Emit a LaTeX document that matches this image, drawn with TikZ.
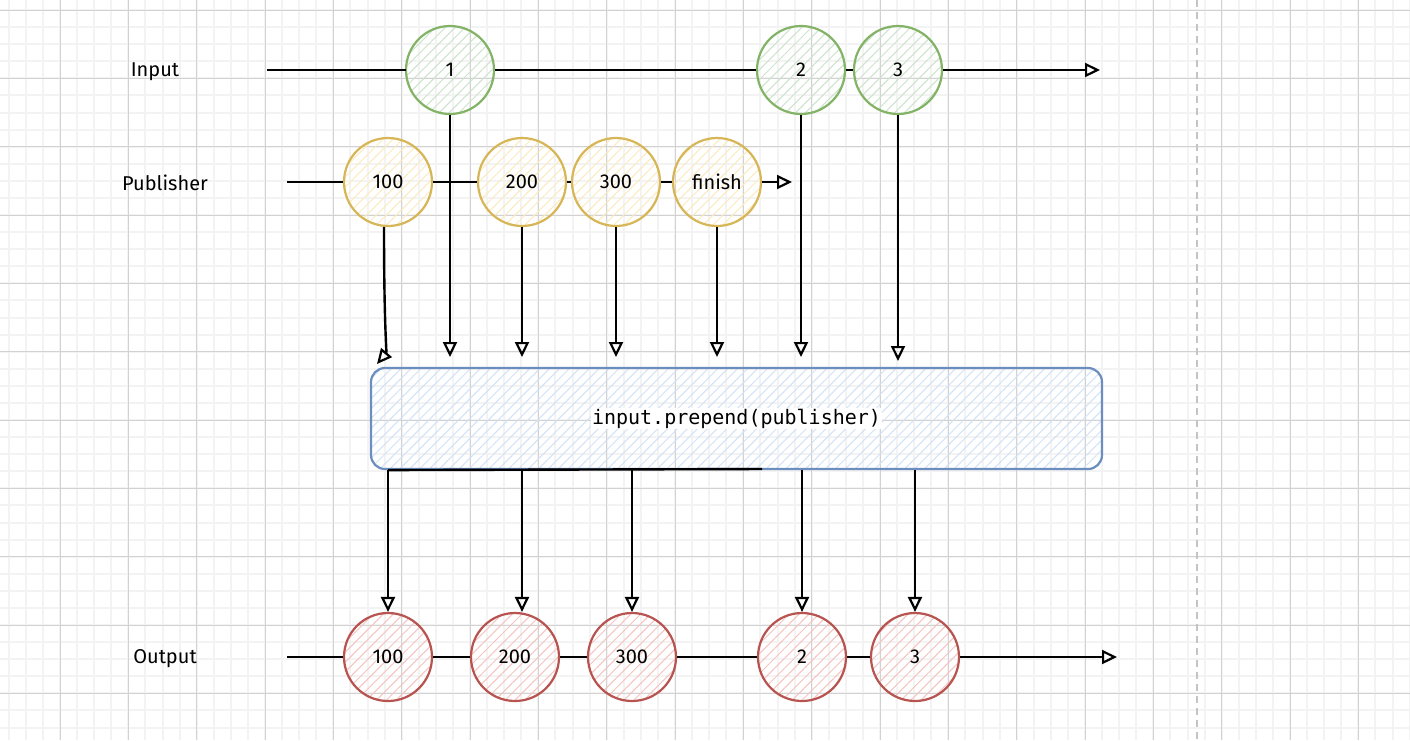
\documentclass[tikz,border=0pt]{standalone}
\usepackage{fontspec}
\setmainfont{Fira Sans}
\setmonofont{DejaVu Sans Mono}
\usetikzlibrary{arrows.meta,patterns.meta}

\definecolor{gridminor}{HTML}{F3F3F3}
\definecolor{gridmajor}{HTML}{D2D2D2}
\definecolor{dashgray}{HTML}{C4C4C4}
\definecolor{greenS}{HTML}{82B366}
\definecolor{greenH}{HTML}{CDE3CB}
\definecolor{yellowS}{HTML}{D6B656}
\definecolor{yellowH}{HTML}{FBEBC0}
\definecolor{redS}{HTML}{B85450}
\definecolor{redH}{HTML}{F4C4C1}
\definecolor{blueS}{HTML}{6C8EBF}
\definecolor{blueH}{HTML}{D2E2F8}

\tikzset{
  txt/.style={font=\fontsize{20}{24}\selectfont},
  bub/.style={circle, minimum size=88pt, inner sep=0pt, line width=2.2pt, txt},
  hatch/.style={pattern={Lines[angle=45,distance=7pt,line width=1pt]}, pattern color=#1},
  inbub/.style={bub, draw=greenS, hatch=greenH},
  pubbub/.style={bub, draw=yellowS, hatch=yellowH},
  outbub/.style={bub, draw=redS, hatch=redH},
  opbox/.style={draw=blueS, line width=2.2pt, rounded corners=14pt, hatch=blueH,
    minimum width=731pt, minimum height=101pt, inner sep=0pt},
  conn/.style={line width=2.4pt, black},
  arr/.style={conn, -{Triangle[open, length=15pt, width=14pt, line width=2.2pt]}},
  rowlabel/.style={txt, anchor=center},
}

\begin{document}
\begin{tikzpicture}[x=1pt, y=-1pt]
  \useasboundingbox (0,0) rectangle (1410,740);
  \fill[white] (0,0) rectangle (1410,740);

  % background grid: minor lines, then major lines
  \foreach \i in {0,...,84} {
    \draw[gridminor, line width=2pt] ({-8.333+17.0833*\i},0) -- ++(0,740);
  }
  \foreach \i in {0,...,45} {
    \draw[gridminor, line width=2pt] (0,{-7.083+17.0833*\i}) -- ++(1410,0);
  }
  \foreach \i in {0,...,21} {
    \draw[gridmajor, line width=1pt] ({-8.333+68.333*\i},0) -- ++(0,740);
  }
  \foreach \i in {0,...,11} {
    \draw[gridmajor, line width=1pt] (0,{-58.333+68.333*\i}) -- ++(1410,0);
  }
  \draw[dashgray, line width=1.5pt, dash pattern=on 7pt off 5pt] (1197,0) -- (1197,740);

  % row labels
  \node[rowlabel] (lin)  at (155,72)  {Input};
  \node[rowlabel] (lpub) at (165,183) {Publisher};
  \node[rowlabel] (lout) at (165,659) {Output};

  % input stream
  \node[inbub] (in1) at (450,70) {1};
  \node[inbub] (in2) at (801,70) {2};
  \node[inbub] (in3) at (898,70) {3};

  % publisher stream
  \node[pubbub] (p100) at (388,182) {100};
  \node[pubbub] (p200) at (522,182) {200};
  \node[pubbub] (p300) at (616,182) {300};
  \node[pubbub] (pfin) at (717,182) {finish};

  % operator
  \node[opbox] (op) at (736.5,418.5) {};
  \node[txt, font=\fontsize{20}{24}\selectfont\ttfamily, fill=white, inner sep=1pt] (optxt) at (op.center) {input.prepend(publisher)};

  % output stream
  \node[outbub] (o100) at (388,657) {100};
  \node[outbub] (o200) at (515,657) {200};
  \node[outbub] (o300) at (632,657) {300};
  \node[outbub] (o2)   at (802,657) {2};
  \node[outbub] (o3)   at (915,657) {3};

  % timeline end points
  \coordinate (inS)  at (267,70);
  \coordinate (inE)  at (1100,70);
  \coordinate (pS)   at (287,182);
  \coordinate (pE)   at (792,182);
  \coordinate (oS)   at (287,657);
  \coordinate (oE)   at (1117,657);

  % timelines
  \draw[conn] (inS) -- (in1);
  \draw[conn] (in1) -- (in2);
  \draw[conn] (in2) -- (in3);
  \draw[arr]  (in3) -- (inE);

  \draw[conn] (pS) -- (p100);
  \draw[conn] (p100) -- (p200);
  \draw[conn] (p200) -- (p300);
  \draw[conn] (p300) -- (pfin);
  \draw[arr]  (pfin) -- (pE);

  \draw[conn] (oS) -- (o100);
  \draw[conn] (o100) -- (o200);
  \draw[conn] (o200) -- (o300);
  \draw[conn] (o300) -- (o2);
  \draw[conn] (o2) -- (o3);
  \draw[arr]  (o3) -- (oE);

  % events flowing into the operator
  \coordinate (tgt)  at (0,357);
  \coordinate (tgt3) at (0,361);
  \coordinate (c100) at (377,364);
  \draw[arr] (in1.south) -- (in1 |- tgt);
  \draw[arr] (in2.south) -- (in2 |- tgt);
  \draw[arr] (in3.south) -- (in3 |- tgt3);
  \draw[arr] ([xshift=-4pt]p100.south) .. controls (384,330) and (387,352) .. (c100);
  \draw[arr] (p200.south) -- (p200 |- tgt);
  \draw[arr] (p300.south) -- (p300 |- tgt);
  \draw[arr] (pfin.south) -- (pfin |- tgt);

  % events leaving the operator
  \coordinate (bl) at (762,469);
  \draw[conn] (op.south -| o100) -- (bl);
  \draw[arr] (op.south -| o100) -- (o100.north);
  \draw[arr] (op.south -| p200) -- (p200 |- o200.north);
  \draw[arr] (op.south -| o300) -- (o300.north);
  \draw[arr] (op.south -| o2) -- (o2.north);
  \draw[arr] (op.south -| o3) -- (o3.north);
\end{tikzpicture}
\end{document}
